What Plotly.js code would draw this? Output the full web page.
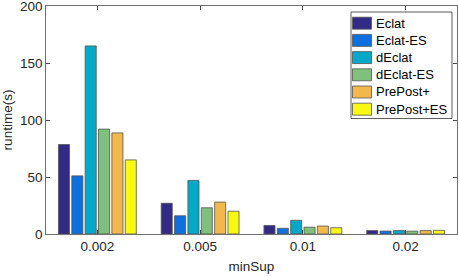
<!DOCTYPE html>
<html><head><meta charset="utf-8">
<script src="https://cdn.plot.ly/plotly-3.0.1.min.js"></script>
<style>html,body{margin:0;padding:0;background:#fff}#c{width:459px;height:277px}</style>
</head><body><div id="c"></div>
<script>
const categories = ["0.002", "0.005", "0.01", "0.02"];
const seriesNames = ["Eclat", "Eclat-ES", "dEclat", "dEclat-ES", "PrePost+", "PrePost+ES"];
const eclat = [78.5, 27, 7.5, 3];
const eclatES = [51, 16, 5, 2.6];
const dEclat = [165, 47, 12, 3];
const dEclatES = [92, 23, 6, 2.5];
const prePost = [88.7, 28, 7, 3];
const prePostES = [65, 20, 5.5, 3.2];
const yTicks = [0, 50, 100, 150, 200];
const colors = ["#332a86", "#0e70df", "#05a8c7", "#7ec07c", "#f1b84b", "#f8f812"];
const values = [eclat, eclatES, dEclat, dEclatES, prePost, prePostES];

const W = 459, H = 277, M = {l: 46, r: 2, t: 6, b: 43};
const pw = W - M.l - M.r, ph = H - M.t - M.b;
const px = x => (x - M.l) / pw;
const py = y => (H - M.b - y) / ph;

const traces = values.map((v, i) => ({
  type: "bar", name: seriesNames[i], x: categories, y: v, showlegend: false,
  marker: {color: colors[i], line: {color: "#555555", width: 0.8}}
}));
const fam = "Liberation Sans, Arial, sans-serif";
const font = {family: fam, size: 13.5, color: "#262626"};

// custom legend (box + swatches + labels)
const shapes = [{type: "rect", xref: "paper", yref: "paper",
  x0: px(351), x1: px(452), y0: py(118.5), y1: py(12),
  line: {color: "#333", width: 0.8}, fillcolor: "#fff", layer: "above"}];
const annotations = [];
seriesNames.forEach((n, i) => {
  const cy = 23.2 + 17.2 * i;
  shapes.push({type: "rect", xref: "paper", yref: "paper",
    x0: px(352.5), x1: px(371.5), y0: py(cy + 6), y1: py(cy - 6),
    fillcolor: colors[i], line: {color: "#555", width: 0.8}, layer: "above"});
  annotations.push({xref: "paper", yref: "paper", x: px(374), y: py(cy),
    xanchor: "left", yanchor: "middle", showarrow: false, text: n,
    font: {family: fam, size: 13, color: "#000"}});
});

Plotly.newPlot("c", traces, {
  width: W, height: H, margin: M,
  paper_bgcolor: "#fff", plot_bgcolor: "#fff",
  font: font,
  barmode: "group", bargap: 0.22, bargroupgap: 0.17,
  showlegend: false,
  shapes: shapes, annotations: annotations,
  xaxis: {type: "category", range: [-0.5, 3.5], showline: true, linecolor: "#4a4a4a", linewidth: 0.8,
    mirror: "ticks", ticks: "inside", ticklen: 4, tickcolor: "#4a4a4a",
    title: {text: "minSup", font: font, standoff: 8}, tickfont: font},
  yaxis: {range: [0, 200], tickvals: yTicks, ticktext: yTicks.map(String), showline: true,
    linecolor: "#4a4a4a", linewidth: 0.8, mirror: "ticks", ticks: "inside", ticklen: 4,
    tickcolor: "#4a4a4a", showgrid: false, zeroline: false, ticklabeloverflow: "allow",
    title: {text: "runtime(s)", font: font, standoff: 6}, tickfont: font}
}, {displayModeBar: false, staticPlot: true});
</script></body></html>
